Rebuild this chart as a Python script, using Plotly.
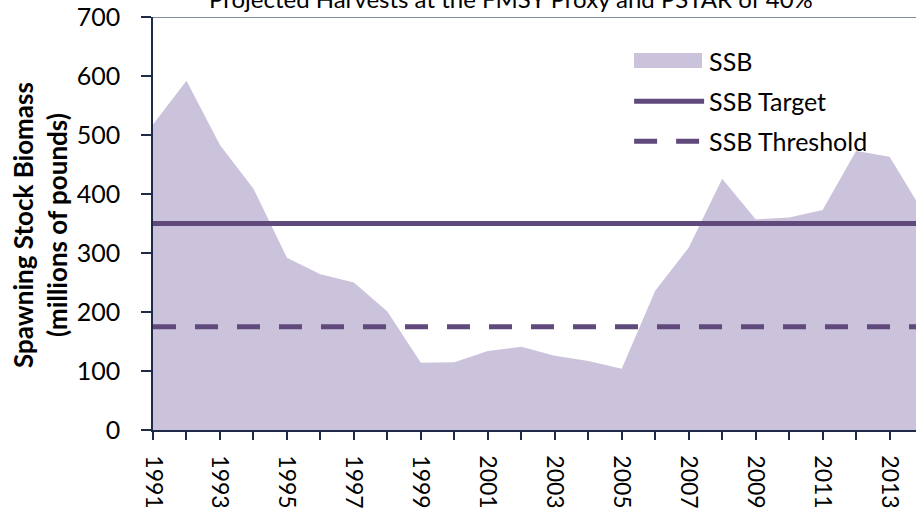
import plotly.graph_objects as go

# Spawning stock biomass (millions of pounds) by year
years = list(range(1991, 2015))
ssb = [518, 592, 483, 409, 292, 264, 250, 201, 114, 115, 134, 141,
       126, 117, 104, 236, 309, 426, 357, 360, 373, 473, 463, 370]

ssb_target = 350
ssb_threshold = 175

tick_years = list(range(1991, 2015, 2))
y_ticks = [0, 100, 200, 300, 400, 500, 600, 700]

fill_color = "#CBC2DB"
line_color = "#604A7B"
axis_color = "#1F2A48"
font_family = "Lato, 'Open Sans', sans-serif"

# plot-area geometry in pixels, used to place the paper-referenced extras
left, top, width_px, height_px = 153, 17, 763, 413


def px_x(px):
    return (px - left) / width_px


def px_y(py):
    return (top + height_px - py) / height_px


fig = go.Figure()

# Filled area of SSB (legend entry drawn by the swatch trace below)
fig.add_trace(go.Scatter(
    x=years, y=ssb, name="SSB", mode="lines",
    fill="tozeroy", fillcolor=fill_color,
    line=dict(width=0, color=fill_color),
    showlegend=False,
))
# Legend entry for the SSB area; its wide swatch is the rectangle shape below
fig.add_trace(go.Scatter(
    x=[None], y=[None], name="SSB", mode="lines",
    line=dict(width=0, color=fill_color),
    legendgroup="a",
))
fig.add_trace(go.Scatter(
    x=[years[0], years[-1]], y=[ssb_target] * 2, name="SSB Target",
    mode="lines", line=dict(color=line_color, width=5),
    legendgroup="b",
))
fig.add_trace(go.Scatter(
    x=[years[0], years[-1]], y=[ssb_threshold] * 2, name="SSB Threshold",
    mode="lines", line=dict(color=line_color, width=5, dash="23px,19px"),
    legendgroup="c",
))

fig.update_layout(
    width=916, height=510,
    margin=dict(l=left, r=0, t=top, b=510 - top - height_px),
    paper_bgcolor="white", plot_bgcolor="white",
    font=dict(family=font_family, size=25, color="black"),
    showlegend=True,
    legend=dict(
        x=0.624, y=0.948, xanchor="left", yanchor="top",
        bgcolor="rgba(0,0,0,0)", itemwidth=70,
        tracegroupgap=4.5, font=dict(size=25),
    ),
    xaxis=dict(
        range=[1991, 2013.79], tickmode="array", tickvals=tick_years,
        ticktext=[str(y) for y in tick_years], tickangle=90,
        showgrid=False, zeroline=False, showline=True,
        linecolor=axis_color, linewidth=1.5,
        ticks="outside", ticklen=8, tickcolor=axis_color, tickwidth=1.5,
        ticklabelstandoff=11, tickfont=dict(size=23),
        minor=dict(ticks="outside", ticklen=8, dtick=1, tickcolor=axis_color, tickwidth=1.5),
    ),
    yaxis=dict(
        range=[0, 700], tickmode="array", tickvals=y_ticks,
        showgrid=False, zeroline=False, showline=True,
        linecolor=axis_color, linewidth=1.5,
        ticks="outside", ticklen=10, tickcolor=axis_color, tickwidth=1.5,
        ticklabelstandoff=16, tickfont=dict(size=25),
    ),
    shapes=[
        dict(type="line", xref="paper", yref="y", x0=0, x1=1, y0=700, y1=700,
             line=dict(color="#5A6680", width=1.5)),
        dict(type="rect", xref="paper", yref="paper",
             x0=px_x(634), x1=px_x(702), y0=px_y(68), y1=px_y(53),
             fillcolor=fill_color, line=dict(width=0)),
    ],
    annotations=[
        dict(text="Projected Harvests at the FMSY Proxy and PSTAR of 40%",
             xref="paper", yref="paper", x=px_x(511), y=1,
             yshift=top + 2, xanchor="center", yanchor="middle",
             showarrow=False, font=dict(size=24)),
        dict(text="<b>Spawning Stock Biomass<br>(millions of pounds)</b>",
             xref="paper", yref="paper", x=px_x(40), y=px_y(225),
             xanchor="center", yanchor="middle", textangle=-90,
             showarrow=False, font=dict(size=26)),
    ],
)

fig.write_html("out.html")
